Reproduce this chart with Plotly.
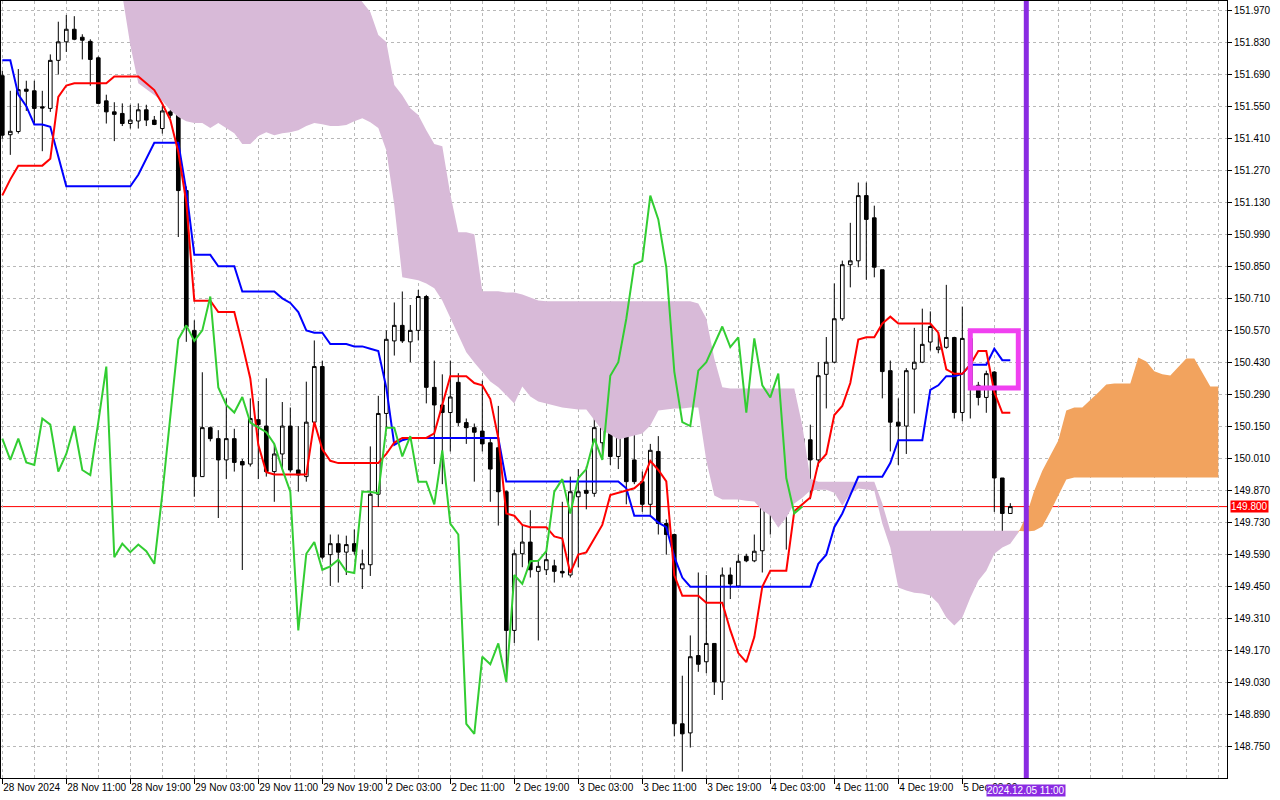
import plotly.graph_objects as go

# USDJPY H1, first bar on screen = 28 Nov 2024 03:00, last = 5 Dec 2024 09:00
OPEN = [151.683, 151.425, 151.439, 151.624, 151.617, 151.547, 151.540, 151.750, 151.831, 151.886,
        151.851, 151.833, 151.761, 151.573, 151.525, 151.518, 151.474, 151.485, 151.534, 151.489,
        151.452, 151.525, 151.511, 151.181, 150.570, 149.931, 150.145, 150.097, 150.004, 150.097,
        149.997, 149.986, 150.180, 150.152, 149.953, 150.030, 150.152, 149.960, 149.931, 150.169,
        150.412, 149.590, 149.638, 149.601, 149.638, 149.528, 149.546, 149.854, 150.207, 150.524,
        150.592, 150.520, 150.570, 150.718, 150.321, 150.244, 150.211, 150.343, 150.167, 150.145,
        150.130, 150.079, 150.057, 149.865, 149.259, 149.594, 149.645, 149.517, 149.524, 149.541,
        149.517, 149.501, 149.843, 149.871, 149.858, 150.079, 150.145, 150.019, 150.108, 150.004,
        149.909, 149.810, 150.041, 149.726, 149.678, 148.851, 148.811, 149.149, 149.122, 149.202,
        149.034, 149.501, 149.453, 149.583, 149.563, 149.607, 149.865, 149.925, 149.770, 149.931,
        149.964, 150.092, 150.004, 150.378, 150.431, 150.621, 150.857, 150.874, 151.159, 151.062,
        150.835, 150.394, 150.169, 150.152, 150.401, 150.431, 150.519, 150.486, 150.496, 150.539,
        150.211, 150.535, 150.330, 150.277, 150.388, 149.925, 149.770]
HIGH = [151.705, 151.617, 151.712, 151.661, 151.661, 151.617, 151.776, 151.919, 151.948, 151.943,
        151.864, 151.842, 151.767, 151.600, 151.567, 151.562, 151.556, 151.562, 151.556, 151.507,
        151.551, 151.534, 151.518, 151.199, 150.614, 150.387, 150.150, 150.134, 150.273, 150.140,
        150.008, 150.273, 150.262, 150.361, 150.074, 150.257, 150.233, 150.152, 150.346, 150.526,
        150.438, 149.678, 149.678, 149.673, 149.700, 149.612, 150.063, 150.284, 150.570, 150.692,
        150.740, 150.681, 150.747, 150.725, 150.438, 150.378, 150.438, 150.383, 150.185, 150.163,
        150.350, 150.096, 150.240, 149.870, 149.612, 149.722, 149.784, 149.568, 149.601, 149.568,
        149.821, 149.931, 149.964, 149.975, 150.207, 150.211, 150.233, 150.163, 150.130, 150.185,
        149.953, 150.074, 150.108, 149.744, 149.682, 149.061, 149.237, 149.512, 149.501, 149.202,
        149.534, 149.534, 149.590, 149.594, 149.678, 149.909, 150.074, 149.953, 149.938, 150.167,
        150.141, 150.158, 150.431, 150.541, 150.775, 150.875, 151.040, 151.216, 151.216, 151.115,
        150.835, 150.438, 150.273, 150.405, 150.581, 150.665, 150.653, 150.560, 150.769, 150.542,
        150.674, 150.552, 150.345, 150.394, 150.392, 149.925, 149.815]
LOW = [151.408, 151.337, 151.430, 151.529, 151.474, 151.353, 151.525, 151.688, 151.787, 151.838,
       151.754, 151.639, 151.560, 151.474, 151.397, 151.463, 151.452, 151.452, 151.463, 151.467,
       151.430, 151.497, 150.978, 150.520, 149.843, 149.930, 150.085, 149.750, 149.920, 149.953,
       149.523, 149.975, 149.920, 149.931, 149.821, 149.964, 149.949, 149.865, 149.909, 150.163,
       149.570, 149.453, 149.468, 149.501, 149.590, 149.440, 149.497, 149.799, 150.140, 150.460,
       150.515, 150.431, 150.526, 150.251, 149.986, 149.898, 150.041, 150.152, 150.074, 149.909,
       150.041, 149.821, 149.717, 149.061, 149.204, 149.535, 149.490, 149.215, 149.501, 149.468,
       149.490, 149.490, 149.535, 149.788, 149.843, 150.019, 149.982, 149.964, 149.810, 149.898,
       149.777, 149.755, 149.678, 149.590, 148.796, 148.642, 148.747, 149.078, 149.072, 148.977,
       148.955, 149.396, 149.446, 149.557, 149.557, 149.512, 149.678, 149.722, 149.612, 149.876,
       149.876, 149.832, 149.975, 150.229, 150.427, 150.612, 150.758, 150.846, 150.791, 150.802,
       150.273, 150.041, 149.982, 150.030, 150.207, 150.427, 150.482, 150.470, 150.490, 150.185,
       150.173, 150.185, 150.242, 150.210, 149.777, 149.651, 149.770]
CLOSE = [151.423, 151.440, 151.622, 151.615, 151.540, 151.542, 151.750, 151.831, 151.886, 151.842,
         151.838, 151.754, 151.562, 151.525, 151.514, 151.474, 151.489, 151.534, 151.489, 151.470,
         151.529, 151.510, 151.181, 150.586, 149.931, 150.145, 150.097, 150.004, 150.097, 149.993,
         149.982, 150.185, 150.158, 149.953, 150.030, 150.152, 149.960, 149.938, 150.169, 150.412,
         149.579, 149.638, 149.601, 149.634, 149.605, 149.550, 149.854, 150.207, 150.531, 150.592,
         150.524, 150.570, 150.718, 150.321, 150.244, 150.211, 150.279, 150.167, 150.145, 150.125,
         150.074, 149.964, 149.865, 149.259, 149.594, 149.645, 149.524, 149.539, 149.568, 149.517,
         149.510, 149.865, 149.865, 149.858, 150.145, 150.145, 150.019, 150.108, 149.909, 149.909,
         149.810, 150.046, 149.726, 149.678, 148.851, 148.807, 149.144, 149.111, 149.202, 149.034,
         149.501, 149.462, 149.561, 149.563, 149.605, 149.865, 149.920, 149.770, 149.925, 149.964,
         150.097, 150.004, 150.372, 150.431, 150.621, 150.857, 150.874, 151.159, 151.055, 150.846,
         150.390, 150.169, 150.152, 150.394, 150.431, 150.509, 150.587, 150.497, 150.539, 150.211,
         150.535, 150.330, 150.277, 150.381, 149.925, 149.770, 149.800]

# Ichimoku lines (one value per bar)
TENKAN = [151.16, 151.23, 151.29, 151.29, 151.29, 151.29, 151.32, 151.59, 151.64, 151.65,
          151.65, 151.65, 151.65, 151.65, 151.68, 151.68, 151.68, 151.68, 151.65, 151.62,
          151.56, 151.49, 151.35, 151.13, 150.70, 150.70, 150.70, 150.65, 150.65, 150.65,
          150.51, 150.36, 150.07, 149.95, 149.94, 149.94, 149.94, 149.94, 149.94, 150.17,
          150.05, 150.00, 149.99, 149.99, 149.99, 149.99, 149.99, 149.99, 150.03, 150.08,
          150.10, 150.10, 150.10, 150.10, 150.12, 150.25, 150.37, 150.37, 150.37, 150.34,
          150.33, 150.27, 150.10, 149.77, 149.76, 149.72, 149.71, 149.71, 149.71, 149.67,
          149.66, 149.51, 149.59, 149.60, 149.66, 149.72, 149.85, 149.86, 149.87, 149.88,
          149.91, 150.00, 149.96, 149.91, 149.50, 149.41, 149.41, 149.41, 149.38, 149.38,
          149.38, 149.26, 149.16, 149.12, 149.23, 149.45, 149.52, 149.52, 149.52, 149.78,
          149.81, 149.84, 149.99, 150.03, 150.20, 150.24, 150.34, 150.53, 150.54, 150.54,
          150.60, 150.63, 150.60, 150.60, 150.60, 150.60, 150.60, 150.56, 150.40, 150.38,
          150.38, 150.42, 150.48, 150.48, 150.30, 150.21, 150.21]
KIJUN = [151.75, 151.75, 151.60, 151.55, 151.47, 151.47, 151.46, 151.33, 151.20, 151.20,
         151.20, 151.20, 151.20, 151.20, 151.20, 151.20, 151.20, 151.25, 151.32, 151.39,
         151.39, 151.39, 151.39, 151.18, 150.90, 150.90, 150.90, 150.85, 150.85, 150.85,
         150.74, 150.74, 150.74, 150.74, 150.74, 150.71, 150.69, 150.65, 150.57, 150.56,
         150.56, 150.51, 150.51, 150.51, 150.50, 150.50, 150.49, 150.48, 150.32, 150.07,
         150.09, 150.10, 150.10, 150.10, 150.10, 150.10, 150.10, 150.10, 150.10, 150.10,
         150.10, 150.10, 150.10, 149.91, 149.91, 149.91, 149.91, 149.91, 149.91, 149.91,
         149.91, 149.91, 149.91, 149.91, 149.91, 149.91, 149.91, 149.91, 149.88, 149.76,
         149.76, 149.76, 149.73, 149.71, 149.58, 149.49, 149.45, 149.45, 149.45, 149.45,
         149.45, 149.45, 149.45, 149.45, 149.45, 149.45, 149.45, 149.45, 149.45, 149.45,
         149.45, 149.45, 149.55, 149.59, 149.71, 149.77, 149.85, 149.93, 149.93, 149.93,
         149.93, 149.99, 150.09, 150.09, 150.09, 150.09, 150.31, 150.33, 150.37, 150.37,
         150.38, 150.42, 150.42, 150.42, 150.49, 150.44, 150.44]

# Senkou spans from bar 15 (first bar where the cloud enters the view) to bar 152
SPAN_START = 15
SPAN_A = [152.036, 151.817, 151.650, 151.624, 151.598, 151.572, 151.533, 151.502, 151.484, 151.476,
          151.476, 151.454, 151.476, 151.454, 151.432, 151.384, 151.384, 151.419, 151.436, 151.423,
          151.432, 151.436, 151.445, 151.463, 151.476, 151.471, 151.463, 151.463, 151.467, 151.484,
          151.497, 151.480, 151.454, 151.357, 151.117, 150.802, 150.797, 150.789, 150.775, 150.754,
          150.701, 150.627, 150.548, 150.474, 150.430, 150.386, 150.347, 150.321, 150.286, 150.251,
          150.325, 150.281, 150.259, 150.251, 150.242, 150.233, 150.229, 150.224, 150.224, 150.176,
          150.132, 150.115, 150.093, 150.102, 150.110, 150.119, 150.154, 150.220, 150.224, 150.229,
          150.229, 150.233, 150.233, 150.001, 149.848, 149.831, 149.831, 149.831, 149.826, 149.822,
          149.783, 149.761, 149.708, 149.752, 149.813, 149.839, 149.870, 149.874, 149.874, 149.861,
          149.804, 149.857, 149.879, 149.874, 149.870, 149.726, 149.621, 149.446, 149.433, 149.424,
          149.420, 149.411, 149.376, 149.315, 149.280, 149.315, 149.402, 149.476, 149.520, 149.594,
          149.621, 149.638, 149.686, 149.760, 149.870, 149.957, 150.023, 150.089, 150.220, 150.233,
          150.233, 150.264, 150.299, 150.334, 150.338, 150.338, 150.338, 150.452, 150.434, 150.391,
          150.378, 150.373, 150.408, 150.447, 150.447, 150.386, 150.325, 150.325]
SPAN_B = [152.060, 152.060, 152.060, 152.060, 152.060, 152.060, 152.060, 152.060, 152.060, 152.060,
          152.060, 152.060, 152.060, 152.060, 152.060, 152.060, 152.060, 152.060, 152.060, 152.060,
          152.060, 152.060, 152.060, 152.060, 152.060, 152.060, 152.060, 152.060, 152.060, 152.060,
          152.005, 151.961, 151.861, 151.830, 151.642, 151.598, 151.541, 151.511, 151.445, 151.384,
          151.375, 151.165, 150.999, 150.999, 150.990, 150.741, 150.741, 150.741, 150.736, 150.736,
          150.727, 150.714, 150.701, 150.697, 150.697, 150.697, 150.697, 150.697, 150.697, 150.697,
          150.697, 150.697, 150.697, 150.697, 150.697, 150.697, 150.697, 150.697, 150.697, 150.697,
          150.697, 150.697, 150.688, 150.622, 150.447, 150.321, 150.316, 150.316, 150.316, 150.316,
          150.316, 150.316, 150.316, 150.316, 150.316, 150.154, 149.922, 149.909, 149.909, 149.909,
          149.909, 149.909, 149.909, 149.909, 149.909, 149.813, 149.695, 149.695, 149.695, 149.695,
          149.695, 149.695, 149.695, 149.695, 149.695, 149.695, 149.695, 149.695, 149.695, 149.695,
          149.695, 149.695, 149.695, 149.691, 149.695, 149.713, 149.778, 149.848, 149.918, 149.927,
          149.927, 149.927, 149.927, 149.927, 149.927, 149.927, 149.927, 149.927, 149.927, 149.927,
          149.927, 149.927, 149.927, 149.927, 149.927, 149.927, 149.927, 149.927]
KUMO_FLIP = 127      # span A climbs over span B here
CHIKOU_SHIFT = 26

X_TICK_BARS = [0, 8, 16, 24, 32, 40, 48, 56, 64, 72, 80, 88, 96, 104, 112, 120]
X_TICK_TEXT = ["28 Nov 2024", "28 Nov 11:00", "28 Nov 19:00", "29 Nov 03:00", "29 Nov 11:00",
               "29 Nov 19:00", "2 Dec 03:00", "2 Dec 11:00", "2 Dec 19:00", "3 Dec 03:00",
               "3 Dec 11:00", "3 Dec 19:00", "4 Dec 03:00", "4 Dec 11:00", "4 Dec 19:00",
               "5 Dec 03:00"]

BID = 149.800
VLINE_BAR = 128
VLINE_TEXT = "2024.12.05 11:00"
BOX_BARS = (121.0, 127.0)
BOX_PRICES = (150.318, 150.568)

FONT = "Liberation Sans, Arial, sans-serif"
GRID = "#b8b8b8"
THISTLE = "#d8bad8"
SANDY = "#f2a35e"
VIOLET = "#8a2be2"

bars = list(range(len(CLOSE)))
fig = go.Figure()

# kumo
span_x = list(range(SPAN_START, SPAN_START + len(SPAN_A)))
cut = KUMO_FLIP - SPAN_START
for lo, hi, col in [(0, cut + 1, THISTLE), (cut, len(SPAN_A), SANDY)]:
    fig.add_trace(go.Scatter(x=span_x[lo:hi], y=SPAN_B[lo:hi], mode="lines",
                             line=dict(width=0, color=col), hoverinfo="skip"))
    fig.add_trace(go.Scatter(x=span_x[lo:hi], y=SPAN_A[lo:hi], mode="lines",
                             line=dict(width=0, color=col), fill="tonexty",
                             fillcolor=col, hoverinfo="skip"))

fig.add_trace(go.Candlestick(
    x=bars, open=OPEN, high=HIGH, low=LOW, close=CLOSE,
    increasing=dict(line=dict(color="black", width=1), fillcolor="white"),
    decreasing=dict(line=dict(color="black", width=1), fillcolor="black"),
    whiskerwidth=0, hoverinfo="skip"))

fig.add_trace(go.Scatter(x=bars, y=KIJUN, mode="lines", line=dict(color="#0000ff", width=2)))
fig.add_trace(go.Scatter(x=bars, y=TENKAN, mode="lines", line=dict(color="#ff0000", width=2)))
fig.add_trace(go.Scatter(x=bars[:len(CLOSE) - CHIKOU_SHIFT], y=CLOSE[CHIKOU_SHIFT:],
                         mode="lines", line=dict(color="#32cd32", width=2)))

# bid line, vertical marker, rectangle
fig.add_shape(type="line", xref="paper", x0=0, x1=1, y0=BID, y1=BID,
              line=dict(color="#ff0000", width=1), layer="below")
fig.add_shape(type="line", x0=VLINE_BAR, x1=VLINE_BAR, yref="paper", y0=0, y1=1,
              line=dict(color=VIOLET, width=5))
fig.add_shape(type="rect", x0=BOX_BARS[0], x1=BOX_BARS[1], y0=BOX_PRICES[0], y1=BOX_PRICES[1],
              line=dict(color="#f040f0", width=5))

fig.add_annotation(xref="paper", x=1, y=BID, xanchor="left", xshift=3, text=f"{BID:.3f}",
                   showarrow=False, bgcolor="#ff0000", borderpad=0,
                   font=dict(family=FONT, size=10, color="white"))
fig.add_annotation(x=VLINE_BAR, yref="paper", y=0, yanchor="top", yshift=-6, text=VLINE_TEXT,
                   showarrow=False, bgcolor=VIOLET, borderpad=0,
                   font=dict(family=FONT, size=10, color="white"))

fig.update_layout(
    width=1280, height=800,
    margin=dict(l=1, r=53, t=1, b=22),
    paper_bgcolor="white", plot_bgcolor="white",
    showlegend=False, hovermode=False, boxgap=0.35,
    font=dict(family=FONT, size=10, color="black"),
)
fig.update_xaxes(
    range=[-0.1625, 153.0875], rangeslider_visible=False, automargin=False,
    tickmode="array", tickvals=X_TICK_BARS, ticktext=X_TICK_TEXT, tickangle=0,
    ticklabelposition="outside right", ticks="outside", ticklen=5, tickcolor="black",
    showgrid=True, gridcolor=GRID, griddash="3px,3px", gridwidth=1,
    minor=dict(tick0=0, dtick=4, showgrid=True, gridcolor=GRID, griddash="3px,3px", ticks=""),
    showline=True, mirror=True, linecolor="black", linewidth=1, zeroline=False,
)
fig.update_yaxes(
    range=[148.614, 152.0094], side="right", automargin=False,
    tickmode="linear", tick0=148.75, dtick=0.14, tickformat=".3f",
    ticks="outside", ticklen=4, tickcolor="black",
    showgrid=True, gridcolor=GRID, griddash="3px,3px", gridwidth=1,
    showline=True, mirror=True, linecolor="black", linewidth=1, zeroline=False,
)

fig.write_html("out.html", config={"displayModeBar": False},
               post_script="document.body.style.margin='0';document.body.style.overflow='hidden';")
